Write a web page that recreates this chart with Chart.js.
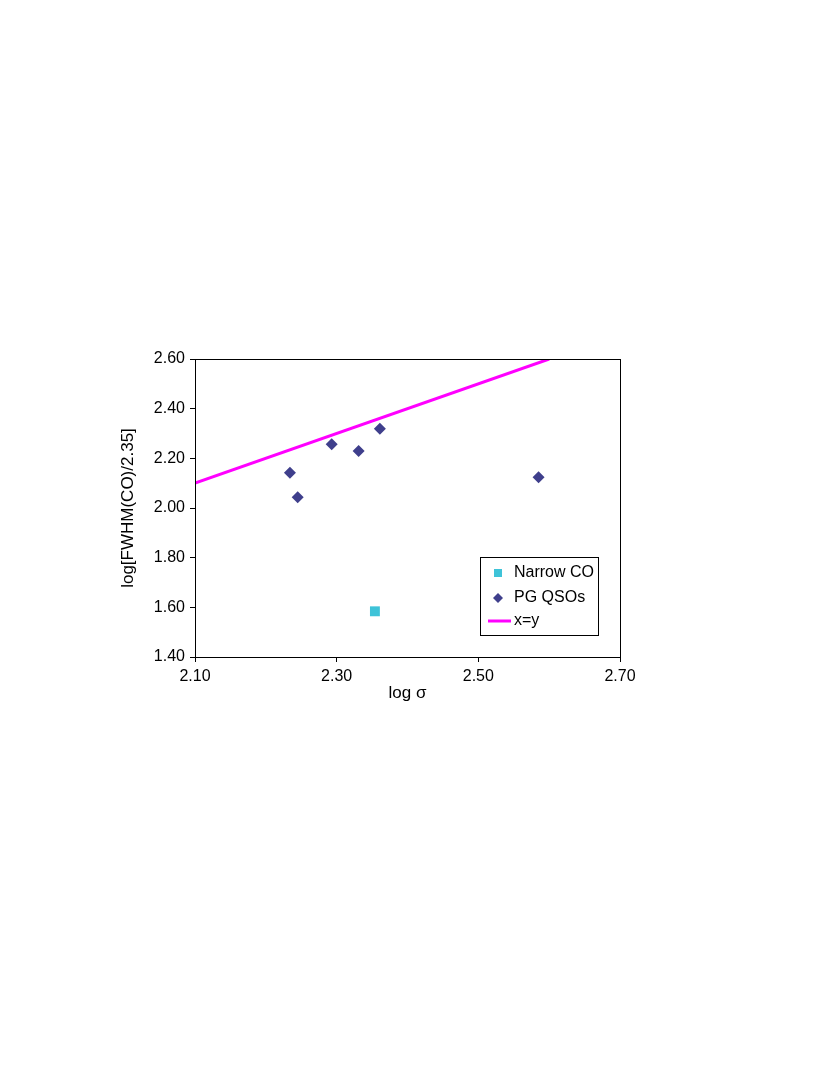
<!DOCTYPE html>
<html>
<head>
<meta charset="utf-8">
<script src="https://cdn.jsdelivr.net/npm/chart.js@4.4.1/dist/chart.umd.min.js"></script>
<style>
  html, body { margin: 0; padding: 0; background: #fff; }
  #wrap { position: relative; width: 830px; height: 1075px; }
</style>
</head>
<body>
<div id="wrap"><canvas id="chart" width="830" height="1075"></canvas></div>
<script>
// Narrow CO (log sigma, log[FWHM/2.35])
const narrowX = [2.354];
const narrowY = [1.584];

// PG QSOs
const pgX = [2.234, 2.245, 2.293, 2.331, 2.361, 2.585];
const pgY = [2.142, 2.043, 2.257, 2.230, 2.319, 2.124];

// x=y line
const lineX = [2.10, 2.60];
const lineY = [2.10, 2.60];

const xTicks = [2.10, 2.30, 2.50, 2.70];
const yTicks = [1.40, 1.60, 1.80, 2.00, 2.20, 2.40, 2.60];

const toPts = (xs, ys) => xs.map((x, i) => ({ x: x, y: ys[i] }));

// rahmen um den plotbereich
const frame = {
    id: 'frame',
    afterDraw(chart) {
        const a = chart.chartArea, c = chart.ctx;
        c.save();
        c.strokeStyle = '#000';
        c.lineWidth = 1;
        c.strokeRect(Math.round(a.left) + 0.5, Math.round(a.top) + 0.5,
                     Math.round(a.right - a.left), Math.round(a.bottom - a.top));
        c.restore();
    }
};

// legende mit rahmen, unten rechts im plot
const boxLegend = {
    id: 'boxLegend',
    afterDraw(chart) {
        const c = chart.ctx;
        const left = 480.5, top = 557.5, w = 118, h = 78;
        c.save();
        c.fillStyle = '#fff';
        c.fillRect(left, top, w, h);
        c.strokeStyle = '#000';
        c.lineWidth = 1;
        c.strokeRect(left, top, w, h);
        c.font = '16px "Liberation Sans", Arial, sans-serif';
        c.textBaseline = 'middle';
        c.fillStyle = '#000';
        const ds = chart.data.datasets;
        const rows = [573, 598, 621];
        ds.forEach((d, i) => {
            const y = rows[i];
            if (d.type === 'line') {
                c.strokeStyle = d.borderColor;
                c.lineWidth = 3;
                c.beginPath();
                c.moveTo(488, y);
                c.lineTo(511, y);
                c.stroke();
            } else if (d.pointStyle === 'rect') {
                c.fillStyle = d.backgroundColor;
                c.fillRect(494, y - 4, 8, 8);
            } else {
                c.fillStyle = d.backgroundColor;
                c.beginPath();
                c.moveTo(498, y - 5);
                c.lineTo(503, y);
                c.lineTo(498, y + 5);
                c.lineTo(493, y);
                c.closePath();
                c.fill();
            }
            c.fillStyle = '#000';
            c.fillText(d.label, 514, y);
        });
        c.restore();
    }
};

const font = { family: '"Liberation Sans", Arial, sans-serif', size: 16 };
const titleFont = { family: '"Liberation Sans", Arial, sans-serif', size: 17 };

new Chart(document.getElementById('chart'), {
    type: 'scatter',
    data: {
        datasets: [
            {
                label: 'Narrow CO',
                data: toPts(narrowX, narrowY),
                pointStyle: 'rect',
                pointRadius: 7,
                backgroundColor: '#3EC3D8',
                borderColor: '#3EC3D8',
                borderWidth: 0
            },
            {
                label: 'PG QSOs',
                data: toPts(pgX, pgY),
                pointStyle: 'rectRot',
                pointRadius: 6,
                backgroundColor: '#3F3F8C',
                borderColor: '#3F3F8C',
                borderWidth: 0
            },
            {
                type: 'line',
                label: 'x=y',
                data: toPts(lineX, lineY),
                borderColor: '#FF00FF',
                backgroundColor: '#FF00FF',
                borderWidth: 3,
                pointRadius: 0,
                fill: false
            }
        ]
    },
    options: {
        responsive: false,
        animation: false,
        layout: { padding: { left: 118, top: 359, right: 210, bottom: 371 } },
        plugins: { legend: { display: false }, tooltip: { enabled: false } },
        scales: {
            x: {
                type: 'linear',
                min: 2.10, max: 2.70,
                afterBuildTicks: s => { s.ticks = xTicks.map(v => ({ value: v })); },
                afterFit: s => { s.height = 47; },
                ticks: { color: '#000', font: font, padding: 5, callback: v => v.toFixed(2) },
                grid: { drawOnChartArea: false, drawTicks: true, tickLength: 5, color: '#000' },
                border: { color: '#000' },
                title: { display: true, text: 'log σ', color: '#000', font: titleFont, padding: 0 }
            },
            y: {
                type: 'linear',
                min: 1.40, max: 2.60,
                afterBuildTicks: s => { s.ticks = yTicks.map(v => ({ value: v })); },
                afterFit: s => { s.width = 77; },
                ticks: { color: '#000', font: font, padding: 5, callback: v => v.toFixed(2) },
                grid: { drawOnChartArea: false, drawTicks: true, tickLength: 5, color: '#000' },
                border: { color: '#000' },
                title: { display: true, text: 'log[FWHM(CO)/2.35]', color: '#000', font: titleFont, padding: 0 }
            }
        }
    },
    plugins: [frame, boxLegend]
});
</script>
</body>
</html>
